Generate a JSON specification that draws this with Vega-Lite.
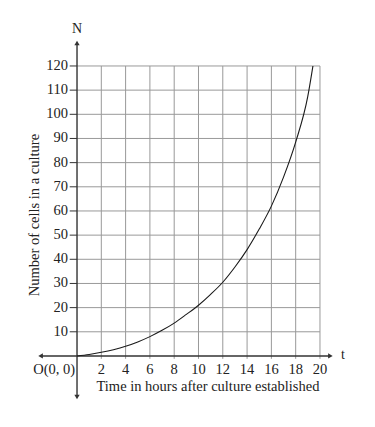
{
  "$schema": "https://vega.github.io/schema/vega-lite/v6.json",
  "width": 375,
  "height": 427,
  "padding": 0,
  "autosize": {"type": "none"},
  "background": "white",
  "config": {"view": {"stroke": null}, "font": "Liberation Serif", "text": {"font": "Liberation Serif", "color": "#222222"}},
  "datasets": {
    "curve": [
      {"t": 0, "N": 0}, {"t": 1, "N": 0.6}, {"t": 2, "N": 1.5}, {"t": 3, "N": 2.6},
      {"t": 4, "N": 4}, {"t": 5, "N": 5.8}, {"t": 6, "N": 8}, {"t": 7, "N": 10.6},
      {"t": 8, "N": 13.6}, {"t": 9, "N": 17.2}, {"t": 10, "N": 21}, {"t": 11, "N": 25.5},
      {"t": 12, "N": 30.5}, {"t": 13, "N": 36.8}, {"t": 14, "N": 44}, {"t": 15, "N": 52.5},
      {"t": 16, "N": 62}, {"t": 17, "N": 74}, {"t": 18, "N": 88.5}, {"t": 19, "N": 107.5},
      {"t": 19.42, "N": 120}
    ],
    "hours": [
      {"t": 2, "label": "2"}, {"t": 4, "label": "4"}, {"t": 6, "label": "6"}, {"t": 8, "label": "8"},
      {"t": 10, "label": "10"}, {"t": 12, "label": "12"}, {"t": 14, "label": "14"}, {"t": 16, "label": "16"},
      {"t": 18, "label": "18"}, {"t": 20, "label": "20"}
    ],
    "counts": [
      {"N": 10, "label": "10"}, {"N": 20, "label": "20"}, {"N": 30, "label": "30"}, {"N": 40, "label": "40"},
      {"N": 50, "label": "50"}, {"N": 60, "label": "60"}, {"N": 70, "label": "70"}, {"N": 80, "label": "80"},
      {"N": 90, "label": "90"}, {"N": 100, "label": "100"}, {"N": 110, "label": "110"}, {"N": 120, "label": "120"}
    ],
    "one": [{"k": 1}]
  },
  "layer": [
    {
      "data": {"name": "hours"},
      "mark": {"type": "rule", "color": "#999999", "strokeWidth": 1},
      "encoding": {
        "x": {"field": "t", "type": "quantitative", "scale": {"domain": [-6.34, 24.53], "nice": false, "zero": false}, "axis": null},
        "y": {"datum": -1.2, "type": "quantitative", "scale": {"domain": [-29.4, 147.3], "nice": false, "zero": false}, "axis": null},
        "y2": {"datum": 120}
      }
    },
    {
      "data": {"name": "counts"},
      "mark": {"type": "rule", "color": "#999999", "strokeWidth": 1},
      "encoding": {
        "y": {"field": "N", "type": "quantitative", "scale": {"domain": [-29.4, 147.3], "nice": false, "zero": false}, "axis": null},
        "x": {"datum": 0, "type": "quantitative", "scale": {"domain": [-6.34, 24.53], "nice": false, "zero": false}, "axis": null},
        "x2": {"datum": 20}
      }
    },
    {
      "data": {"name": "counts"},
      "mark": {"type": "rule", "color": "#333333", "strokeWidth": 1},
      "encoding": {
        "y": {"field": "N", "type": "quantitative", "scale": {"domain": [-29.4, 147.3], "nice": false, "zero": false}, "axis": null},
        "x": {"datum": -0.6, "type": "quantitative", "scale": {"domain": [-6.34, 24.53], "nice": false, "zero": false}, "axis": null},
        "x2": {"datum": 0}
      }
    },
    {
      "data": {"name": "one"},
      "mark": {"type": "rule", "color": "#333333", "strokeWidth": 1.4},
      "encoding": {
        "x": {"datum": -3.05, "type": "quantitative", "scale": {"domain": [-6.34, 24.53], "nice": false, "zero": false}, "axis": null},
        "x2": {"datum": 20.9},
        "y": {"datum": 0, "type": "quantitative", "scale": {"domain": [-29.4, 147.3], "nice": false, "zero": false}, "axis": null}
      }
    },
    {
      "data": {"name": "one"},
      "mark": {"type": "rule", "color": "#333333", "strokeWidth": 1.4},
      "encoding": {
        "x": {"datum": 0, "type": "quantitative", "scale": {"domain": [-6.34, 24.53], "nice": false, "zero": false}, "axis": null},
        "y": {"datum": -16.5, "type": "quantitative", "scale": {"domain": [-29.4, 147.3], "nice": false, "zero": false}, "axis": null},
        "y2": {"datum": 129}
      }
    },
    {
      "data": {"name": "one"},
      "mark": {"type": "point", "shape": "triangle-left", "filled": true, "color": "#333333", "size": 28, "opacity": 1},
      "encoding": {
        "x": {"datum": -3.0, "type": "quantitative", "scale": {"domain": [-6.34, 24.53], "nice": false, "zero": false}, "axis": null},
        "y": {"datum": 0, "type": "quantitative", "scale": {"domain": [-29.4, 147.3], "nice": false, "zero": false}, "axis": null}
      }
    },
    {
      "data": {"name": "one"},
      "mark": {"type": "point", "shape": "triangle-right", "filled": true, "color": "#333333", "size": 28, "opacity": 1},
      "encoding": {
        "x": {"datum": 20.86, "type": "quantitative", "scale": {"domain": [-6.34, 24.53], "nice": false, "zero": false}, "axis": null},
        "y": {"datum": 0, "type": "quantitative", "scale": {"domain": [-29.4, 147.3], "nice": false, "zero": false}, "axis": null}
      }
    },
    {
      "data": {"name": "one"},
      "mark": {"type": "point", "shape": "triangle-up", "filled": true, "color": "#333333", "size": 28, "opacity": 1},
      "encoding": {
        "x": {"datum": 0, "type": "quantitative", "scale": {"domain": [-6.34, 24.53], "nice": false, "zero": false}, "axis": null},
        "y": {"datum": 129.5, "type": "quantitative", "scale": {"domain": [-29.4, 147.3], "nice": false, "zero": false}, "axis": null}
      }
    },
    {
      "data": {"name": "one"},
      "mark": {"type": "point", "shape": "triangle-down", "filled": true, "color": "#333333", "size": 28, "opacity": 1},
      "encoding": {
        "x": {"datum": 0, "type": "quantitative", "scale": {"domain": [-6.34, 24.53], "nice": false, "zero": false}, "axis": null},
        "y": {"datum": -17, "type": "quantitative", "scale": {"domain": [-29.4, 147.3], "nice": false, "zero": false}, "axis": null}
      }
    },
    {
      "data": {"name": "curve"},
      "mark": {"type": "line", "color": "#1a1a1a", "strokeWidth": 1.1, "interpolate": "monotone"},
      "encoding": {
        "x": {"field": "t", "type": "quantitative", "scale": {"domain": [-6.34, 24.53], "nice": false, "zero": false}, "axis": null},
        "y": {"field": "N", "type": "quantitative", "scale": {"domain": [-29.4, 147.3], "nice": false, "zero": false}, "axis": null}
      }
    },
    {
      "data": {"name": "counts"},
      "mark": {"type": "text", "align": "right", "baseline": "middle", "fontSize": 14.5, "font": "Liberation Serif", "color": "#222222"},
      "encoding": {
        "y": {"field": "N", "type": "quantitative", "scale": {"domain": [-29.4, 147.3], "nice": false, "zero": false}, "axis": null},
        "x": {"datum": -0.74, "type": "quantitative", "scale": {"domain": [-6.34, 24.53], "nice": false, "zero": false}, "axis": null},
        "text": {"field": "label"}
      }
    },
    {
      "data": {"name": "hours"},
      "mark": {"type": "text", "align": "center", "baseline": "middle", "fontSize": 14.5, "font": "Liberation Serif", "color": "#222222"},
      "encoding": {
        "x": {"field": "t", "type": "quantitative", "scale": {"domain": [-6.34, 24.53], "nice": false, "zero": false}, "axis": null},
        "y": {"datum": -5.8, "type": "quantitative", "scale": {"domain": [-29.4, 147.3], "nice": false, "zero": false}, "axis": null},
        "text": {"field": "label"}
      }
    },
    {
      "data": {"name": "one"},
      "mark": {"type": "text", "align": "right", "baseline": "middle", "fontSize": 14.5, "font": "Liberation Serif", "color": "#222222", "text": "O(0, 0)"},
      "encoding": {
        "x": {"datum": -0.16, "type": "quantitative", "scale": {"domain": [-6.34, 24.53], "nice": false, "zero": false}, "axis": null},
        "y": {"datum": -5.8, "type": "quantitative", "scale": {"domain": [-29.4, 147.3], "nice": false, "zero": false}, "axis": null}
      }
    },
    {
      "data": {"name": "one"},
      "mark": {"type": "text", "align": "center", "baseline": "middle", "fontSize": 14, "font": "Liberation Serif", "color": "#222222", "text": "N"},
      "encoding": {
        "x": {"datum": 0, "type": "quantitative", "scale": {"domain": [-6.34, 24.53], "nice": false, "zero": false}, "axis": null},
        "y": {"datum": 135.3, "type": "quantitative", "scale": {"domain": [-29.4, 147.3], "nice": false, "zero": false}, "axis": null}
      }
    },
    {
      "data": {"name": "one"},
      "mark": {"type": "text", "align": "center", "baseline": "middle", "fontSize": 14, "font": "Liberation Serif", "color": "#222222", "text": "t"},
      "encoding": {
        "x": {"datum": 21.9, "type": "quantitative", "scale": {"domain": [-6.34, 24.53], "nice": false, "zero": false}, "axis": null},
        "y": {"datum": 0.6, "type": "quantitative", "scale": {"domain": [-29.4, 147.3], "nice": false, "zero": false}, "axis": null}
      }
    },
    {
      "data": {"name": "one"},
      "mark": {"type": "text", "align": "center", "baseline": "middle", "fontSize": 14.5, "font": "Liberation Serif", "color": "#222222", "text": "Time in hours after culture established"},
      "encoding": {
        "x": {"datum": 10.78, "type": "quantitative", "scale": {"domain": [-6.34, 24.53], "nice": false, "zero": false}, "axis": null},
        "y": {"datum": -12.8, "type": "quantitative", "scale": {"domain": [-29.4, 147.3], "nice": false, "zero": false}, "axis": null}
      }
    },
    {
      "data": {"name": "one"},
      "mark": {"type": "text", "align": "center", "baseline": "middle", "fontSize": 14.5, "font": "Liberation Serif", "color": "#222222", "angle": 270, "text": "Number of cells in a culture"},
      "encoding": {
        "x": {"datum": -3.46, "type": "quantitative", "scale": {"domain": [-6.34, 24.53], "nice": false, "zero": false}, "axis": null},
        "y": {"datum": 58.3, "type": "quantitative", "scale": {"domain": [-29.4, 147.3], "nice": false, "zero": false}, "axis": null}
      }
    }
  ]
}
